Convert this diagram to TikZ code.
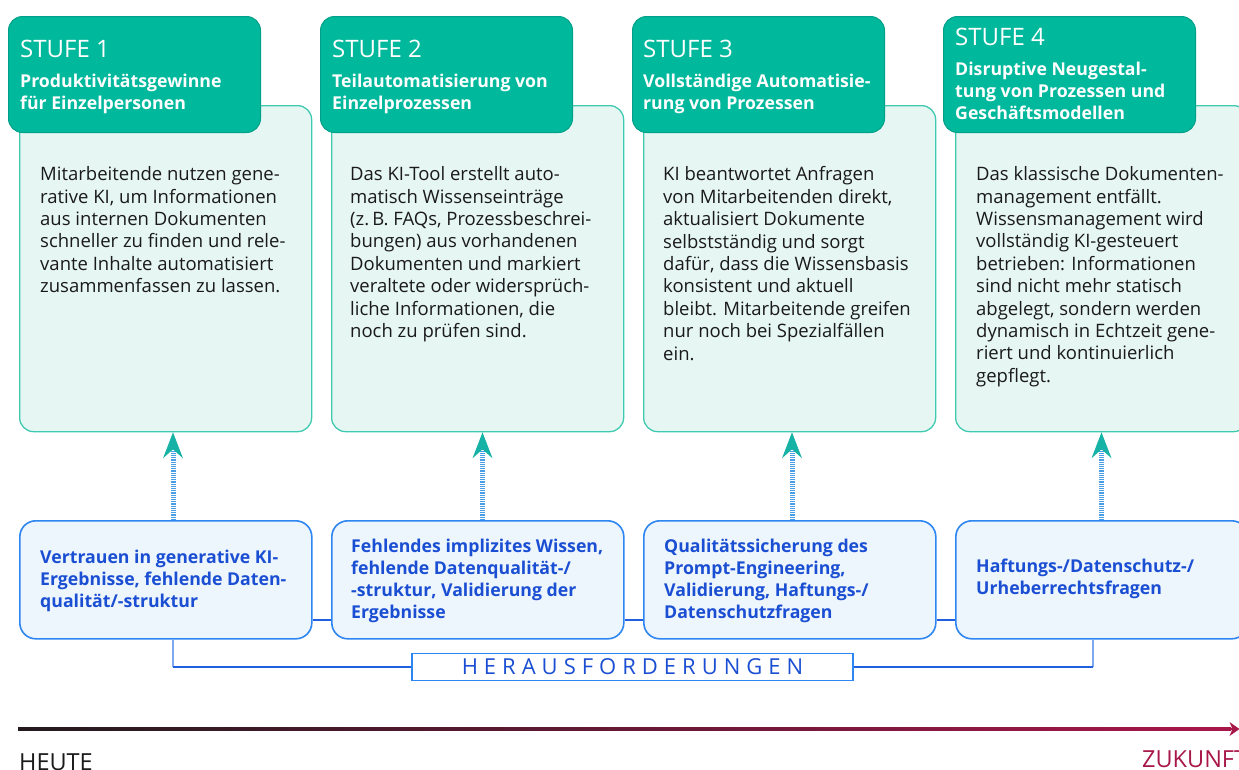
\documentclass[tikz,border=0pt]{standalone}
\usepackage{fontspec}
\setmainfont{Open Sans}
\usetikzlibrary{arrows.meta,calc}
\definecolor{hgreen}{HTML}{00B89C}
\definecolor{hgreenD}{HTML}{00A089}
\definecolor{lfill}{HTML}{E6F6F3}
\definecolor{lborder}{HTML}{3FC9B0}
\definecolor{bfill}{HTML}{EDF5FD}
\definecolor{bborder}{HTML}{2E86F2}
\definecolor{btext}{HTML}{1B4FD3}
\definecolor{lineblue}{HTML}{1F5FE0}
\definecolor{vblue}{HTML}{7FA9EE}
\definecolor{tealarrow}{HTML}{17B2A6}
\definecolor{dotblue}{HTML}{4A9EE6}
\definecolor{crimson}{HTML}{A8174A}
\definecolor{darkline}{HTML}{231A1E}
\definecolor{bodytext}{HTML}{1A1A1A}
\newcommand\lsp{\hspace{6pt}}
\begin{document}
\begin{tikzpicture}[x=1pt,y=-1pt,
  stufebox/.style={draw=hgreenD, fill=hgreen, line width=1pt, rounded corners=14pt, anchor=north west, minimum width=252pt, minimum height=116pt, inner sep=0pt},
  lightbox/.style={draw=lborder, fill=lfill, line width=1.3pt, rounded corners=14pt, anchor=north west, minimum width=292pt, minimum height=326pt, inner sep=0pt},
  chalbox/.style={draw=bborder, fill=bfill, line width=1.6pt, rounded corners=16pt, anchor=north west, minimum width=292pt, minimum height=118pt, inner sep=0pt},
  stufetitle/.style={anchor=north west, inner sep=0pt, text=white, font=\fontsize{24}{26}\selectfont},
  stufesub/.style={anchor=north west, inner sep=0pt, align=left, text=white, font=\fontsize{17.7}{22}\selectfont\bfseries},
  bodytxt/.style={anchor=north west, inner sep=0pt, align=left, text=bodytext, font=\fontsize{18.5}{22.4}\selectfont},
  chaltxt/.style={anchor=west, inner sep=0pt, align=left, text=btext, font=\fontsize{17.7}{22}\selectfont\bfseries},
  dotshaft/.style={line width=5pt, dash pattern=on 1.2pt off 1pt, draw=dotblue, -{Stealth[length=26pt,width=20pt,inset=9pt,color=tealarrow,line width=0pt]}},
  linkline/.style={draw=lineblue, line width=1.3pt},
  bracketv/.style={draw=vblue, line width=1.6pt},
  herbox/.style={draw=bborder, line width=1.2pt, fill=white, minimum width=441pt, minimum height=27pt, inner sep=0pt, text=btext, font=\fontsize{22}{24}\selectfont},
  timelabel/.style={anchor=base west, inner sep=0pt, font=\fontsize{23.5}{25}\selectfont}
]
\useasboundingbox (0,0) rectangle (1239,769);
\clip (0,0) rectangle (1239,769);

% light boxes
\node[lightbox] (s1) at (19,105) {};
\node[lightbox] (s2) at (331,105) {};
\node[lightbox] (s3) at (643,105) {};
\node[lightbox] (s4) at (955,105) {};

% header boxes
\node[stufebox] (h1) at (8,16) {};
\node[stufebox] (h2) at (320,16) {};
\node[stufebox] (h3) at (632,16) {};
\node[stufebox] (h4) at (943,16) {};

\node[stufetitle] (t1) at (20,40) {STUFE 1};
\node[stufetitle] (t2) at (332,40) {STUFE 2};
\node[stufetitle] (t3) at (643,40) {STUFE 3};
\node[stufetitle] (t4) at (955,28) {STUFE 4};

\node[stufesub] (u1) at (20,73.5) {Produktivitätsgewinne\\für Einzelpersonen};
\node[stufesub] (u2) at (332,73.5) {Teilautomatisierung von\\Einzelprozessen};
\node[stufesub] (u3) at (643,73.5) {Vollständige Automatisie-\\rung von Prozessen};
\node[stufesub] (u4) at (955,62) {Disruptive Neugestal-\\tung von Prozessen und\\Geschäftsmodellen};

% body texts
\node[bodytxt] (b1) at (40,166.5) {Mitarbeitende nutzen gene-\\rative KI, um Informationen\\aus internen Dokumenten\\schneller zu finden und rele-\\vante Inhalte automatisiert\\zusammenfassen zu lassen.};
\node[bodytxt] (b2) at (350,166.5) {Das KI-Tool erstellt auto-\\matisch Wissenseinträge\\(z.\,B. FAQs, Prozessbeschrei-\\bungen) aus vorhandenen\\Dokumenten und markiert\\veraltete oder widersprüch-\\liche Informationen, die\\noch zu prüfen sind.};
\node[bodytxt] (b3) at (663,166.5) {KI beantwortet Anfragen\\von Mitarbeitenden direkt,\\aktualisiert Dokumente\\selbstständig und sorgt\\dafür, dass die Wissensbasis\\konsistent und aktuell\\bleibt. Mitarbeitende greifen\\nur noch bei Spezialfällen\\ein.};
\node[bodytxt] (b4) at (976,166.5) {Das klassische Dokumenten-\\management entfällt.\\Wissensmanagement wird\\vollständig KI-gesteuert\\betrieben: Informationen\\sind nicht mehr statisch\\abgelegt, sondern werden\\dynamisch in Echtzeit gene-\\riert und kontinuierlich\\gepflegt.};

% challenge boxes
\node[chalbox] (c1) at (19,520) {};
\node[chalbox] (c2) at (331,520) {};
\node[chalbox] (c3) at (643,520) {};
\node[chalbox] (c4) at (955,520) {};

\node[chaltxt] (d1) at (40,581) {Vertrauen in generative KI-\\Ergebnisse, fehlende Daten-\\qualität/-struktur};
\node[chaltxt] (d2) at (351,581) {Fehlendes implizites Wissen,\\fehlende Datenqualität-/\\-struktur, Validierung der\\Ergebnisse};
\node[chaltxt] (d3) at (664,581) {Qualitätssicherung des\\Prompt-Engineering,\\Validierung, Haftungs-/\\Datenschutzfragen};
\node[chaltxt] (d4) at (976,579) {Haftungs-/Datenschutz-/\\Urheberrechtsfragen};

% links between challenge boxes
\coordinate (ly) at (0,620);
\draw[linkline] (c1.east |- ly) -- (c2.west |- ly);
\draw[linkline] (c2.east |- ly) -- (c3.west |- ly);
\draw[linkline] (c3.east |- ly) -- (c4.west |- ly);

% arrows
\coordinate (ax1) at (173,0);
\coordinate (ax2) at (482.5,0);
\coordinate (ax3) at (792,0);
\coordinate (ax4) at (1101.5,0);
\draw[dotshaft] (c1.north -| ax1) -- (s1.south -| ax1);
\draw[dotshaft] (c2.north -| ax2) -- (s2.south -| ax2);
\draw[dotshaft] (c3.north -| ax3) -- (s3.south -| ax3);
\draw[dotshaft] (c4.north -| ax4) -- (s4.south -| ax4);

% Herausforderungen bracket
\node[herbox] (her) at (632.5,667) {H\lsp E\lsp R\lsp A\lsp U\lsp S\lsp F\lsp O\lsp R\lsp D\lsp E\lsp R\lsp U\lsp N\lsp G\lsp E\lsp N};
\coordinate (k1) at (173,667);
\coordinate (k4) at (1093,667);
\draw[bracketv] (c1.south -| k1) -- (k1);
\draw[bracketv] (c4.south -| k4) -- (k4);
\draw[linkline] (k1) -- (her.west);
\draw[linkline] (her.east) -- (k4);

% timeline
\coordinate (tl) at (18,729);
\coordinate (tm) at (1231,729);
\coordinate (tr) at (1239.5,729);
\shade[left color=darkline, right color=crimson] ($(tl)+(0,-1.35)$) rectangle ($(tm)+(0,1.35)$);
\draw[draw=crimson, line width=2.7pt, -{Stealth[length=10pt,width=14pt,inset=3pt,line width=0pt]}] ($(tm)+(-1,0)$) -- (tr);
\node[timelabel, text=bodytext] (heute) at (19,770) {HEUTE};
\node[timelabel, text=crimson] (zuk) at (1142,767) {ZUKUNFT};
\end{tikzpicture}
\end{document}
